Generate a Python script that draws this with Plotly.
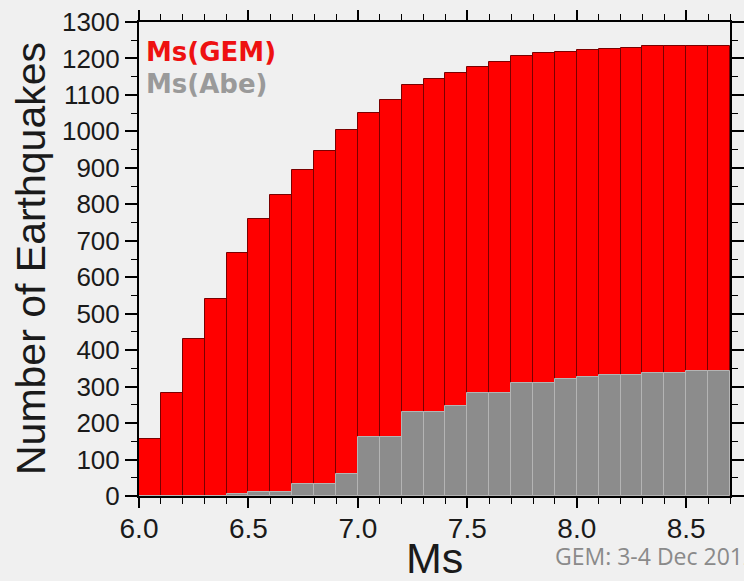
import plotly.graph_objects as go

bin_starts = [6.0, 6.1, 6.2, 6.3, 6.4, 6.5, 6.6, 6.7, 6.8, 6.9, 7.0, 7.1, 7.2, 7.3,
              7.4, 7.5, 7.6, 7.7, 7.8, 7.9, 8.0, 8.1, 8.2, 8.3, 8.4, 8.5, 8.6]
ms_gem = [155, 282, 431, 541, 667, 760, 825, 894, 947, 1004, 1051, 1086, 1127, 1143,
          1161, 1176, 1190, 1208, 1216, 1219, 1223, 1226, 1229, 1233, 1233, 1233, 1233]
ms_abe = [0, 0, 0, 0, 5, 12, 12, 33, 33, 59, 161, 163, 230, 230,
          247, 282, 282, 309, 309, 320, 326, 331, 331, 336, 337, 342, 342]
bin_width = 0.1
x_ticks = [6.0, 6.5, 7.0, 7.5, 8.0, 8.5]
y_ticks = list(range(0, 1301, 100))

centers = [b + bin_width / 2 for b in bin_starts]

BG = "#f0f0f0"
SANS = "Liberation Sans, Arial, sans-serif"

fig = go.Figure()
fig.add_trace(go.Bar(
    x=centers, y=ms_gem, width=bin_width, name="Ms(GEM)",
    marker=dict(color="#ff0000", line=dict(color="#7a0000", width=1)),
    showlegend=False,
))
fig.add_trace(go.Bar(
    x=centers, y=ms_abe, width=bin_width, name="Ms(Abe)",
    marker=dict(color="#8c8c8c", line=dict(color="#b4b4b4", width=1)),
    showlegend=False,
))

fig.update_layout(
    width=744, height=581,
    margin=dict(l=139, r=14, t=22, b=85),
    paper_bgcolor=BG, plot_bgcolor=BG,
    barmode="overlay", bargap=0,
    font=dict(family=SANS, size=26, color="#1a1a1a"),
    xaxis=dict(
        range=[6.0, 8.7], tickvals=x_ticks, ticktext=[f"{v:.1f}" for v in x_ticks],
        ticks="outside", ticklen=10, tickwidth=1.5, tickcolor="black",
        minor=dict(dtick=0.1, tick0=6.0, ticks="outside", ticklen=6, tickwidth=1.2, tickcolor="black"),
        showline=True, linecolor="black", linewidth=2, mirror="ticks",
        showgrid=False, zeroline=False, automargin=False,
        tickfont=dict(size=28), ticklabelstandoff=-4,
    ),
    yaxis=dict(
        range=[0, 1300], tickvals=y_ticks,
        ticks="outside", ticklen=12, tickwidth=1.5, tickcolor="black",
        minor=dict(dtick=50, tick0=0, ticks="outside", ticklen=6, tickwidth=1.2, tickcolor="black"),
        showline=True, linecolor="black", linewidth=2, mirror="ticks",
        showgrid=False, zeroline=False, automargin=False,
        tickfont=dict(size=26),
    ),
)

# axis titles
fig.add_annotation(
    x=(31 - 139) / 591, y=0.5, xref="paper", yref="paper", xanchor="center", yanchor="middle",
    text="Number of Earthquakes", textangle=-90, showarrow=False,
    font=dict(family=SANS, size=41, color="#1a1a1a"),
)
fig.add_annotation(
    x=(434 - 139) / 591, y=(496 - 558) / 474, xref="paper", yref="paper",
    xanchor="center", yanchor="middle",
    text="Ms", showarrow=False,
    font=dict(family=SANS, size=43, color="#1a1a1a"),
)

# legend labels
fig.add_annotation(
    x=(144 - 139) / 591, y=(496 - 35) / 474, xref="paper", yref="paper",
    xanchor="left", yanchor="top",
    text="<b>Ms(GEM)</b>", showarrow=False,
    font=dict(family="DejaVu Sans, sans-serif", size=26, color="#ee1111"),
)
fig.add_annotation(
    x=(144 - 139) / 591, y=(496 - 67) / 474, xref="paper", yref="paper",
    xanchor="left", yanchor="top",
    text="<b>Ms(Abe)</b>", showarrow=False,
    font=dict(family="DejaVu Sans, sans-serif", size=26, color="#9a9a9a"),
)

# footer credit (cut off at the right edge, as in the original slide)
fig.add_annotation(
    x=(553 - 139) / 591, y=(496 - 556) / 474, xref="paper", yref="paper",
    xanchor="left", yanchor="middle",
    text="GEM: 3-4 Dec 2012", showarrow=False,
    font=dict(family="Open Sans, sans-serif", size=23, color="#8a8a8a"),
)

fig.write_html(
    "out.html",
    config={"displayModeBar": False},
    post_script="document.body.style.margin='0';document.body.style.overflow='hidden';"
                "document.body.style.background='#f0f0f0';",
)
